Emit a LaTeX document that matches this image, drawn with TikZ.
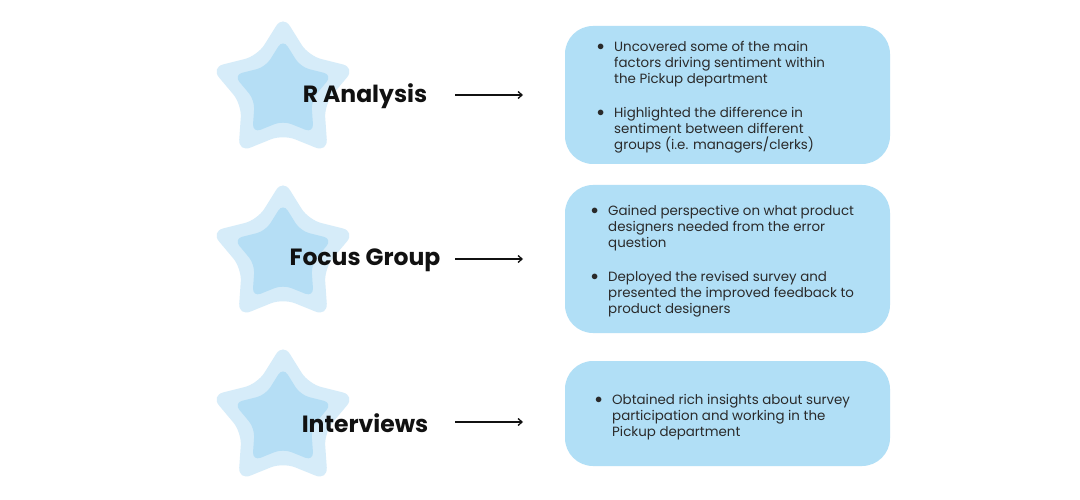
\documentclass[tikz,border=0pt]{standalone}
\usepackage{fontspec}
\setmainfont{Poppins}
\usetikzlibrary{shapes.geometric,arrows.meta,positioning}
\definecolor{starout}{HTML}{D6ECF9}
\definecolor{starin}{HTML}{B5DEF5}
\definecolor{boxfill}{HTML}{B1DFF6}
\definecolor{inkblack}{HTML}{111111}
\definecolor{inkgray}{HTML}{2A2A2A}
\tikzset{
  outerstar/.style={star, star points=5, star point ratio=1.75, minimum size=152pt, inner sep=0pt, rounded corners=13pt, fill=starout},
  innerstar/.style={star, star points=5, star point ratio=1.75, minimum size=104pt, inner sep=0pt, rounded corners=9pt, fill=starin},
  infobox/.style={fill=boxfill, rounded corners=28pt, minimum width=325pt, inner sep=0pt},
  steptitle/.style={font=\fontsize{23.5}{27}\selectfont\bfseries, text=inkblack},
  itemtext/.style={anchor=west, font=\fontsize{13.4}{16}\selectfont, text=inkgray, inner sep=0pt, align=left},
  flow/.style={-{Straight Barb[length=4pt,width=7pt]}, line width=1.3pt, inkblack}
}
\newcommand{\bul}{\makebox[17pt][l]{\raisebox{0.5pt}{$\bullet$}}}
\newcommand{\ind}{\hspace*{17pt}}
\begin{document}
\begin{tikzpicture}[x=1pt, y=-1pt]
  \useasboundingbox[fill=white] (0,0) rectangle (1080,500);

  % stars, titles and arrows for the three methods
  \foreach \i/\sy/\ty/\name in {1/91/96/R Analysis, 2/255/260/Focus Group, 3/419/423/Interviews} {
    \node[outerstar] (so\i) at (283,\sy) {};
    \node[innerstar] (si\i) at (283,\sy) {};
    \node[steptitle] (t\i) at (365,\ty) {\name};
    \coordinate (as\i) at (455,\ty-1);
    \coordinate (ae\i) at (523,\ty-1);
    \draw[flow] (as\i) -- (ae\i);
  }

  % result boxes
  \node[infobox, minimum height=138pt] (b1) at (727.5,95) {};
  \node[infobox, minimum height=148pt] (b2) at (727.5,259) {};
  \node[infobox, minimum height=105pt] (b3) at (727.5,413.5) {};

  \node[itemtext] (r1) at (597,97) {\bul Uncovered some of the main\\ \ind factors driving sentiment within\\ \ind the Pickup department\\[18pt]
    \bul Highlighted the difference in\\ \ind sentiment between different\\ \ind groups (i.e. managers/clerks)};
  \node[itemtext] (r2) at (591,261) {\bul Gained perspective on what product\\ \ind designers needed from the error\\ \ind question\\[18pt]
    \bul Deployed the revised survey and\\ \ind presented the improved feedback to\\ \ind product designers};
  \node[itemtext] (r3) at (595,417) {\bul Obtained rich insights about survey\\ \ind participation and working in the\\ \ind Pickup department};
\end{tikzpicture}
\end{document}
